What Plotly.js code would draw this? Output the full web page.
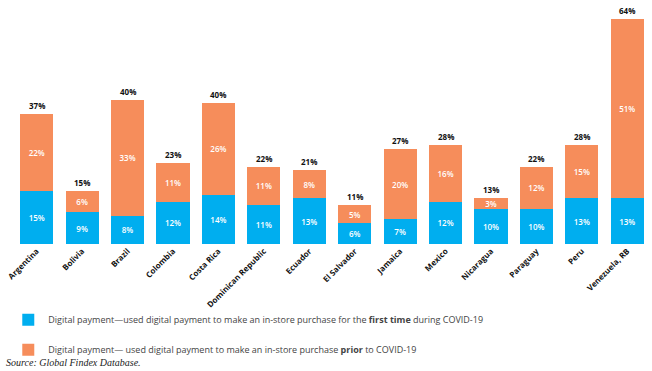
<!DOCTYPE html>
<html><head><meta charset="utf-8">
<script src="https://cdn.plot.ly/plotly-3.0.1.min.js"></script>
<style>body{margin:0;background:#fff}#c{width:652px;height:371px}</style>
</head><body><div id="c"></div>
<script>
const countries = ["Argentina","Bolivia","Brazil","Colombia","Costa Rica","Dominican Republic","Ecuador","El Salvador","Jamaica","Mexico","Nicaragua","Paraguay","Peru","Venezuela, RB"];
const firstTime = [15,9,8,12,14,11,13,6,7,12,10,10,13,13];
const priorCovid = [22,6,33,11,26,11,8,5,20,16,3,12,15,51];
const totals = [37,15,40,23,40,22,21,11,27,28,13,22,28,64];
const seriesNames = [
  "Digital payment\u2014used digital payment to make an in-store purchase for the <b>first time</b> during COVID-19",
  "Digital payment\u2014 used digital payment to make an in-store purchase <b>prior</b> to COVID-19"
];
const blue = "#00AEEF", orange = "#F68D5B";
const pct = a => a.map(v => v + "%");
const common = {type:"bar", textposition:"inside", insidetextanchor:"middle", textangle:0,
  textfont:{family:"Open Sans, sans-serif", size:8, color:"#fff", weight:600}, constraintext:"none", hoverinfo:"skip"};
const traces = [
  Object.assign({}, common, {x:countries, y:firstTime, text:pct(firstTime), name:seriesNames[0], marker:{color:blue}, legendgroup:"a"}),
  Object.assign({}, common, {x:countries, y:priorCovid, text:pct(priorCovid), name:seriesNames[1], marker:{color:orange}, legendgroup:"b"})
];
const annotations = countries.map((c,i)=>({x:c, y:firstTime[i]+priorCovid[i], text:"<b>"+totals[i]+"%</b>", showarrow:false,
  yanchor:"bottom", yshift:1, font:{family:"Open Sans, sans-serif", size:8, color:"#111"}}));
annotations.push({xref:"paper", yref:"paper", x:-0.016, y:-0.555, xanchor:"left", yanchor:"bottom", showarrow:false,
  text:"<i>Source: Global Findex Database.</i>", font:{family:"Liberation Serif, serif", size:10, color:"#222"}});
const layout = {
  width:652, height:371, barmode:"stack", bargap:0.27,
  margin:{l:14, r:2, t:17, b:127},
  paper_bgcolor:"#fff", plot_bgcolor:"#fff",
  xaxis:{tickangle:-45, showline:false, ticks:"", showgrid:false,
    tickfont:{family:"Open Sans, sans-serif", size:8, color:"#111", weight:"bold"}},
  yaxis:{range:[0,64.5], visible:false, showgrid:false, zeroline:false},
  showlegend:true,
  legend:{orientation:"v", x:-0.009, y:-0.27, xanchor:"left", yanchor:"top", traceorder:"grouped", tracegroupgap:11,
    font:{family:"Open Sans, sans-serif", size:9, color:"#444"}, bgcolor:"rgba(0,0,0,0)"},
  annotations:annotations
};
Plotly.newPlot("c", traces, layout, {displayModeBar:false, staticPlot:true});
</script></body></html>
